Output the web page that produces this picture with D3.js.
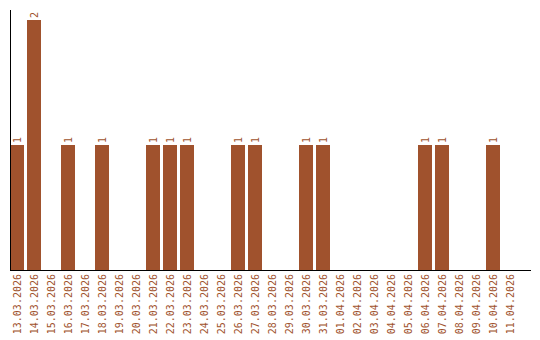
<!DOCTYPE html>
<html>
<head>
<meta charset="utf-8">
<script src="https://cdn.jsdelivr.net/npm/d3@7"></script>
<style>
html, body { margin: 0; padding: 0; background: #fff; }
svg { display: block; }
text { font-family: "DejaVu Sans Mono", monospace; font-size: 10px; fill: #a0522d; }
</style>
</head>
<body>
<script>
const categories = ["13.03.2026","14.03.2026","15.03.2026","16.03.2026","17.03.2026","18.03.2026","19.03.2026","20.03.2026","21.03.2026","22.03.2026","23.03.2026","24.03.2026","25.03.2026","26.03.2026","27.03.2026","28.03.2026","29.03.2026","30.03.2026","31.03.2026","01.04.2026","02.04.2026","03.04.2026","04.04.2026","05.04.2026","06.04.2026","07.04.2026","08.04.2026","09.04.2026","10.04.2026","11.04.2026"];
const values = [1,2,0,1,0,1,0,0,1,1,1,0,0,1,1,0,0,1,1,0,0,0,0,0,1,1,0,0,1,0];

const W = 540, H = 340;
const svg = d3.select("body").append("svg").attr("width", W).attr("height", H);

const x = d3.scaleBand().domain(categories).range([10, 517]).paddingInner(3/17).paddingOuter(0);
const y = d3.scaleLinear().domain([0, 2]).range([270, 20]);

const data = categories.map((c, i) => ({ c, v: values[i] }));

svg.append("g").selectAll("rect").data(data.filter(d => d.v > 0)).join("rect")
  .attr("x", d => x(d.c)).attr("width", x.bandwidth())
  .attr("y", d => y(d.v)).attr("height", d => y(0) - y(d.v))
  .attr("fill", "#a0522d");

svg.append("g").selectAll("text").data(data.filter(d => d.v > 0)).join("text")
  .attr("transform", d => `translate(${x(d.c) + x.bandwidth() / 2},${y(d.v) - 2}) rotate(-90)`)
  .attr("text-anchor", "start").attr("dominant-baseline", "central")
  .text(d => d.v);

// y axis line
svg.append("line").attr("x1", 10.5).attr("x2", 10.5).attr("y1", 10).attr("y2", 270)
  .attr("stroke", "#000").attr("stroke-width", 1);
// x axis line
svg.append("line").attr("x1", 10).attr("x2", 531).attr("y1", 270.5).attr("y2", 270.5)
  .attr("stroke", "#000").attr("stroke-width", 1);

svg.append("g").selectAll("text").data(categories).join("text")
  .attr("transform", d => `translate(${x(d) + x.bandwidth() / 2},274) rotate(-90)`)
  .attr("text-anchor", "end").attr("dominant-baseline", "central")
  .text(d => d);
</script>
</body>
</html>
